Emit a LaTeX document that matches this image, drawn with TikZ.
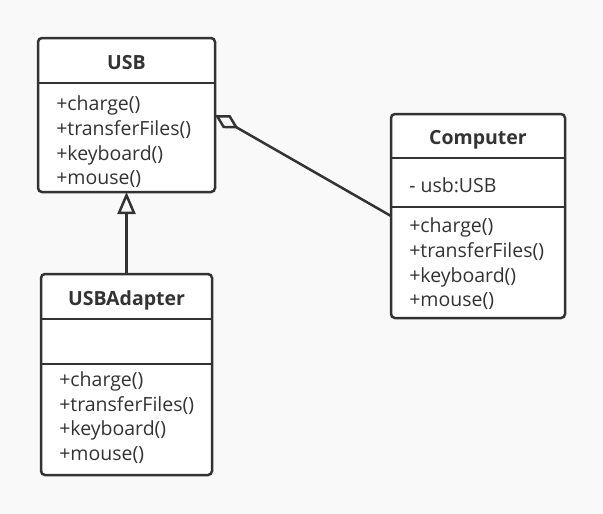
\documentclass[tikz,border=0pt]{standalone}
\usepackage{fontspec}
\setmainfont{Open Sans}
\usepackage{xcolor}
\usetikzlibrary{positioning,calc,arrows.meta}
\definecolor{linegray}{HTML}{333333}
\definecolor{bggray}{HTML}{F9F9F9}

\begin{document}
\begin{tikzpicture}[x=1pt, y=-1pt, line width=2.5pt, draw=linegray,
    classbox/.style={draw=linegray, fill=white, rectangle, rounded corners=4pt, outer sep=0pt},
    classname/.style={font=\fontsize{19.5}{22}\selectfont\bfseries, text=linegray},
    members/.style={font=\fontsize{19.5}{24.6}\selectfont, text=linegray, align=left, anchor=west, inner sep=0pt}]
    % Background
    \fill[bggray] (0,0) rectangle (603,514);

    % USB interface
    \node [classbox, minimum width=177pt, minimum height=154pt] (usb) at (126.5,115) {};
    \node [classname] (usbname) at (126.5,63) {USB};
    \draw (usb.west |- 0,83) -- (usb.east |- 0,83);
    \node [members] (usbops) at (55,142) {+charge()\\+transferFiles()\\+keyboard()\\+mouse()};

    % Computer
    \node [classbox, minimum width=174pt, minimum height=204pt] (comp) at (478,216) {};
    \node [classname] (compname) at (478,140) {Computer};
    \draw (comp.west |- 0,158) -- (comp.east |- 0,158);
    \draw (comp.west |- 0,207) -- (comp.east |- 0,207);
    \node [members] (compattr) at (408,185) {- usb:USB};
    \node [members] (compops) at (408,264) {+charge()\\+transferFiles()\\+keyboard()\\+mouse()};

    % USBAdapter
    \node [classbox, minimum width=171pt, minimum height=201pt] (adapter) at (126.5,374.5) {};
    \node [classname] (adaptername) at (126.5,300) {USBAdapter};
    \draw (adapter.west |- 0,319) -- (adapter.east |- 0,319);
    \draw (adapter.west |- 0,364) -- (adapter.east |- 0,364);
    \node [members] (adapterops) at (58,417.5) {+charge()\\+transferFiles()\\+keyboard()\\+mouse()};

    % Relations
    \draw [-{Triangle[open, length=22pt, width=18pt, line width=2.5pt]}] (adapter.north) -- (usb.south);
    \draw [{Diamond[open, length=27pt, width=15pt, line width=2.5pt]}-] (usb.east) -- (comp.west);
\end{tikzpicture}
\end{document}
